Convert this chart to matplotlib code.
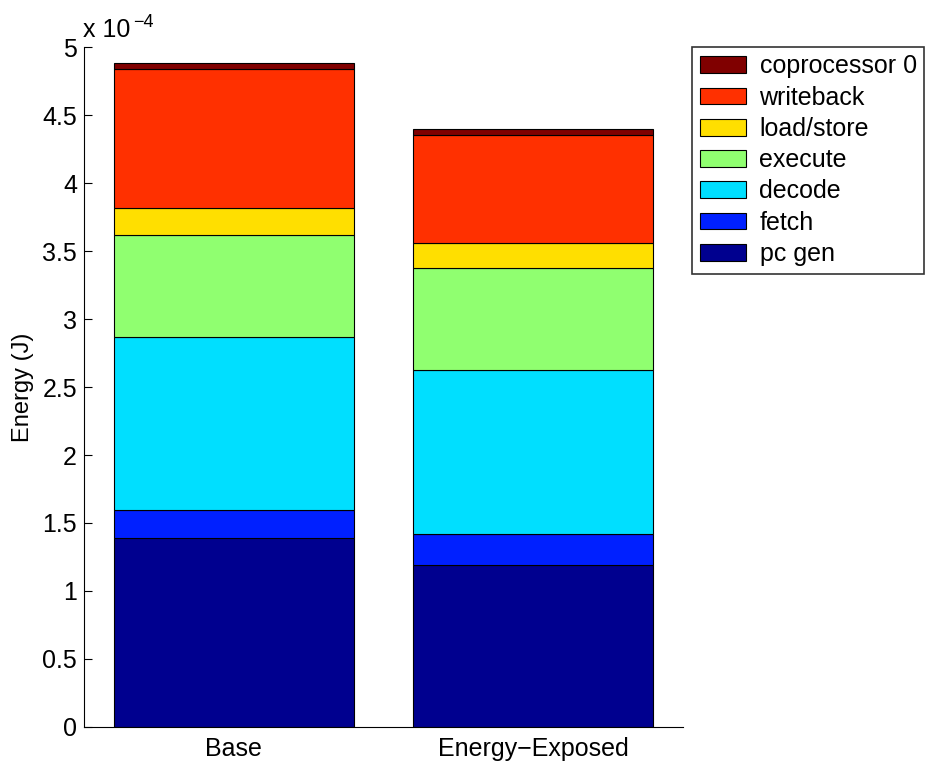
import matplotlib
matplotlib.use("Agg")
import matplotlib.pyplot as plt
import numpy as np

plt.rcParams['font.family'] = ['Liberation Sans', 'DejaVu Sans']

categories = ["Base", "Energy\u2212Exposed"]
components = ["pc gen", "fetch", "decode", "execute", "load/store", "writeback", "coprocessor 0"]
# energy per component, units of 1e-4 J
pc_gen      = [1.39, 1.19]
fetch       = [0.205, 0.23]
decode      = [1.275, 1.205]
execute     = [0.75, 0.75]
load_store  = [0.195, 0.185]
writeback   = [1.02, 0.795]
coprocessor = [0.05, 0.045]
series = [pc_gen, fetch, decode, execute, load_store, writeback, coprocessor]
colors = ["#00008F", "#0020FF", "#00DFFF", "#90FF70", "#FFDF00", "#FF3000", "#800000"]
yticks = [0, 0.5, 1, 1.5, 2, 2.5, 3, 3.5, 4, 4.5, 5]

fig = plt.figure(figsize=(9.46, 7.67), dpi=100)
ax = fig.add_axes([84/946, 40/767, (683-84)/946, (727-47)/767])

x = np.arange(1, len(categories) + 1)
bottom = np.zeros(len(categories))
handles = []
for vals, col, name in zip(series, colors, components):
    b = ax.bar(x, vals, 0.8, bottom=bottom, color=col, edgecolor="black",
               linewidth=0.8, label=name)
    handles.append(b)
    bottom += np.array(vals)

ax.set_xlim(0.5, 2.5)
ax.set_ylim(0, 5)
ax.set_xticks(x)
ax.set_xticklabels(categories, fontsize=18)
ax.set_yticks(yticks)
ax.set_yticklabels([f"{t:g}" for t in yticks], fontsize=18)
ax.tick_params(axis='y', direction='in', length=6, width=0.8, pad=5)
ax.tick_params(axis='x', length=0, pad=7)
ax.spines['top'].set_visible(False)
ax.spines['right'].set_visible(False)
ax.set_ylabel("Energy (J)", fontsize=17, labelpad=6)

fig.text(83/946, 1 - 37/767, "x 10", fontsize=18, ha='left', va='baseline')
fig.text(133/946, 1 - 27/767, "\u22124", fontsize=13, ha='left', va='baseline')

leg = fig.legend(handles[::-1], components[::-1], loc='upper left',
                 bbox_to_anchor=(692/946, 1 - 47/767), fontsize=18,
                 frameon=True, fancybox=False, edgecolor='black',
                 handlelength=1.85, handleheight=0.65, labelspacing=0.29,
                 handletextpad=0.55, borderpad=0.3, borderaxespad=0)
leg.get_frame().set_linewidth(1.2)

fig.savefig("out.png", dpi=100)
